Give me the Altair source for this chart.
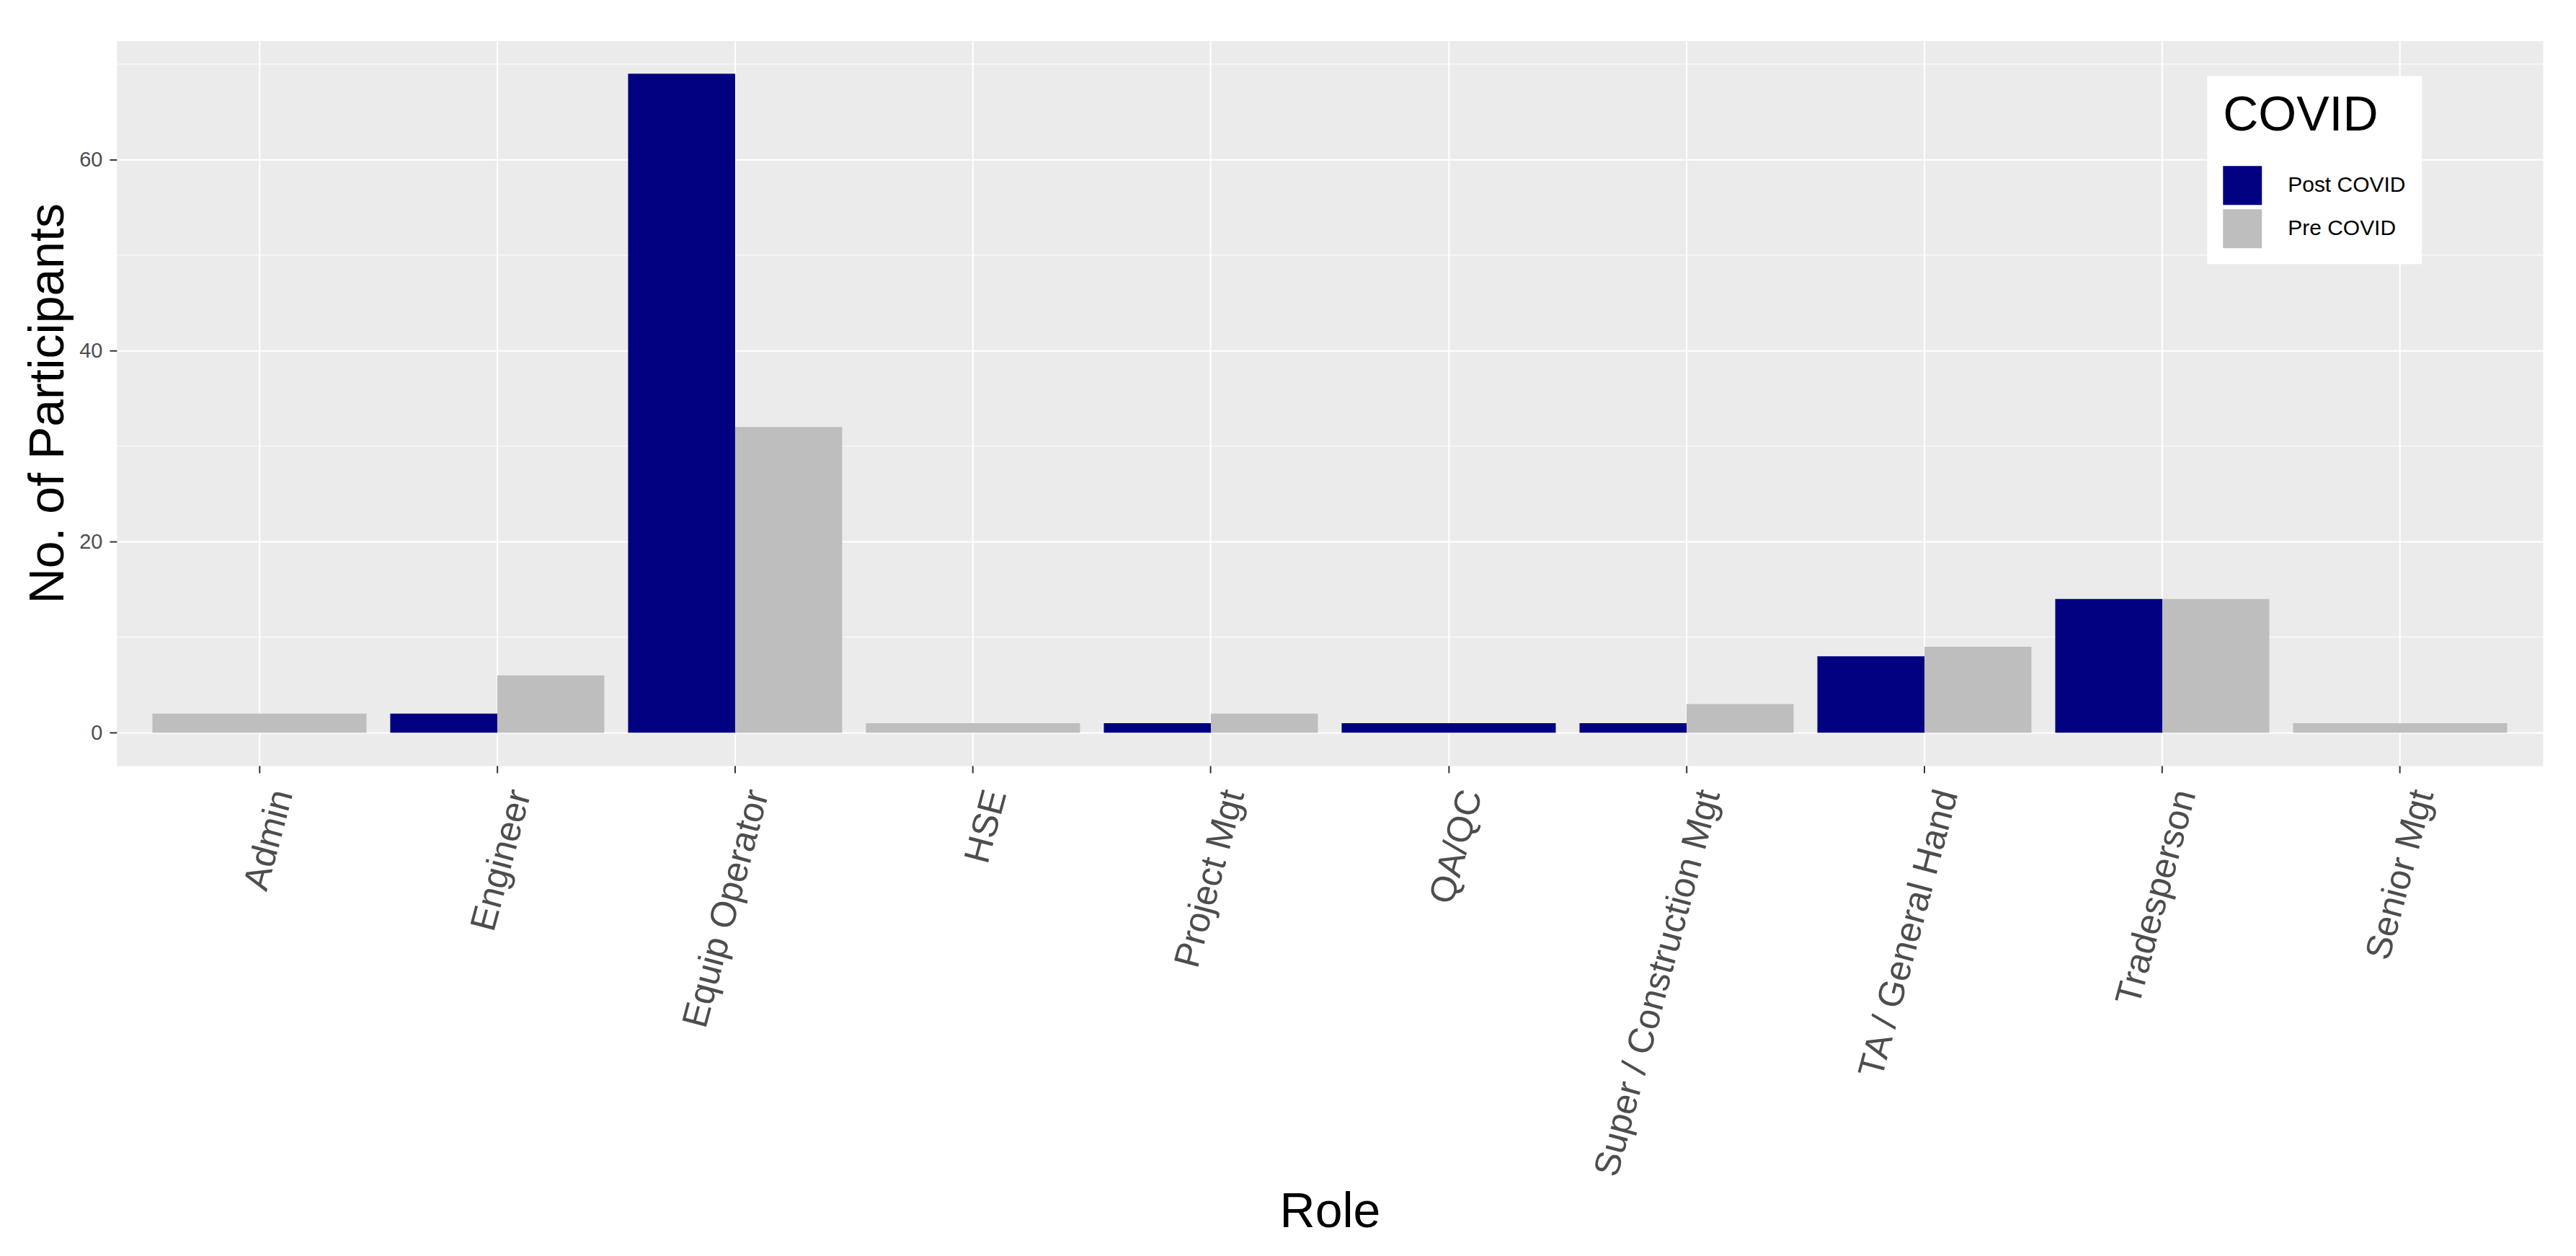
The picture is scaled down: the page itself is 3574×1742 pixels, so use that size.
import altair as alt
import pandas as pd

roles = ["Admin", "Engineer", "Equip Operator", "HSE", "Project Mgt", "QA/QC",
         "Super / Construction Mgt", "TA / General Hand", "Tradesperson", "Senior Mgt"]
post_covid = [None, 2, 69, None, 1, 1, 1, 8, 14, None]
pre_covid = [2, 6, 32, 1, 2, None, 3, 9, 14, 1]
groups = ["Post COVID", "Pre COVID"]
colors = ["#000080", "#BEBEBE"]
y_ticks = [0, 20, 40, 60]
y_minor = [10, 30, 50, 70]
y_domain = [-3.45, 72.45]

rows = []
for r, a, b in zip(roles, post_covid, pre_covid):
    if a is not None:
        rows.append({"Role": r, "COVID": groups[0], "n": a})
    if b is not None:
        rows.append({"Role": r, "COVID": groups[1], "n": b})
df = pd.DataFrame(rows)
minor_df = pd.DataFrame({"v": y_minor})

FONT = "Liberation Sans"

x_enc = alt.X("Role:N", title="Role",
              scale=alt.Scale(domain=roles, paddingInner=0.1, paddingOuter=0.15),
              axis=alt.Axis(labelAngle=285, labelAlign="right", labelBaseline="top",
                            labelFontSize=50, labelColor="#4D4D4D", labelPadding=18,
                            labelOffset=8, labelFont=FONT, labelLimit=0,
                            tickSize=10, tickWidth=2, tickColor="#333333",
                            grid=True, gridColor="white", gridWidth=2, bandPosition=0.5,
                            domain=False, titleFontSize=68, titleFont=FONT,
                            titleFontWeight="normal", titleColor="black",
                            titleBaseline="alphabetic", titleY=640))
y_scale = alt.Scale(domain=y_domain, nice=False, zero=False)
y_enc = alt.Y("n:Q", title="No. of Participants", scale=y_scale, stack=None,
              axis=alt.Axis(values=y_ticks, labelFontSize=29, labelColor="#4D4D4D",
                            labelFont=FONT, labelPadding=10, labelLimit=0,
                            tickSize=10, tickWidth=2, tickColor="#333333",
                            grid=True, gridColor="white", gridWidth=2, domain=False,
                            titleFontSize=68, titleFont=FONT, titleFontWeight="normal",
                            titleColor="black", titleAngle=270, titleLimit=0,
                            titleBaseline="alphabetic", titleX=-74))
color_enc = alt.Color("COVID:N", title="COVID",
                      scale=alt.Scale(domain=groups, range=colors),
                      legend=alt.Legend(orient="none", legendX=2902, legendY=49,
                                        fillColor="white", padding=22,
                                        titleFontSize=68, titleFont=FONT,
                                        titleFontWeight="normal", titleColor="black",
                                        titlePadding=35, titleBaseline="top", titleLimit=0,
                                        labelFontSize=30, labelFont=FONT, labelColor="black",
                                        labelLimit=0,
                                        labelOffset=36, symbolType="square",
                                        symbolSize=2916, symbolStrokeWidth=0,
                                        symbolOpacity=1, rowPadding=6))

minor = alt.Chart(minor_df).mark_rule(color="white", strokeWidth=1).encode(
    y=alt.Y("v:Q", scale=y_scale)
)

base = alt.Chart(df).transform_joinaggregate(k="count()", groupby=["Role"])

single = base.transform_filter("datum.k == 1").mark_bar().encode(
    x=x_enc, y=y_enc, y2=alt.datum(0), color=color_enc
)
double = base.transform_filter("datum.k == 2").mark_bar().encode(
    x=x_enc, y=y_enc, y2=alt.datum(0), color=color_enc,
    xOffset=alt.XOffset("COVID:N", sort=groups,
                        scale=alt.Scale(paddingInner=0, paddingOuter=0))
)

chart = alt.layer(minor, single, double).properties(
    width=3368, height=1006,
    background="white",
    padding={"left": 25, "top": 48, "right": 37, "bottom": 10},
).configure_view(fill="#EBEBEB", stroke="transparent")

chart.save("out.html", embed_options={"renderer": "svg", "actions": False})
